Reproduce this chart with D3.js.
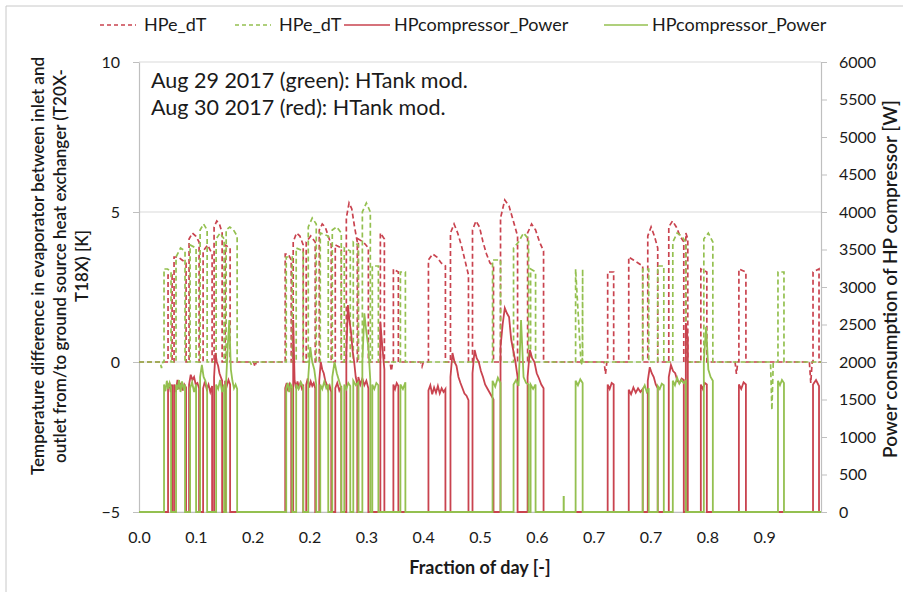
<!DOCTYPE html>
<html><head><meta charset="utf-8">
<script src="https://cdn.jsdelivr.net/npm/d3@7"></script>
<style>
body{margin:0;background:#fff;}
svg{display:block;font-family:Lato,"Open Sans",sans-serif;}
</style></head><body>
<svg id="chart" width="903" height="592"></svg>
<script>
// ---------- data ----------
const xTickValues = [0, 0.0833, 0.1667, 0.25, 0.3333, 0.4167, 0.5, 0.5833, 0.6667, 0.75, 0.8333, 0.9167];
const xTickLabels = ["0.0","0.1","0.2","0.2","0.3","0.4","0.5","0.6","0.7","0.7","0.8","0.9"];
const leftTicks = [-5, 0, 5, 10];
const rightTicks = [0,500,1000,1500,2000,2500,3000,3500,4000,4500,5000,5500,6000];
const seriesNames = ["HPe_dT","HPe_dT","HPcompressor_Power","HPcompressor_Power"];
const annotationLines = ["Aug 29 2017 (green): HTank mod.","Aug 30 2017 (red): HTank mod."];

// cycles: [start, end, dT values (K), power values (W)]  -- Aug 30 (red)
const redCycles = [
  [0.0426,0.0485,[2.9,2.9],[1650,1720,1600,1700]],
  [0.0514,0.0690,[3.5,3.5,3.4,3.3],[1700,1600,1760,1640,1720,1620,1700,1660]],
  [0.0734,0.0881,[4.1,4.3,4.2,4.0],[1700,1830,1760,1800,1700,1720,1650]],
  [0.0940,0.1072,[3.7,3.9,3.6],[1650,1740,1640,1700,1600,1680]],
  [0.1101,0.1219,[4.5,4.7,4.6,4.3],[1800,2120,2000,1950,1850,1800,1750]],
  [0.1263,0.1336,[3.9,3.8],[1750,1680,1760,1700]],
  [0.2144,0.2232,[3.6,3.6,3.4],[1650,1720,1610,1700,1640]],
  [0.2261,0.2408,[4.0,4.3,4.2,3.9],[2560,1750,1650,1740,1660,1720,1650,1700]],
  [0.2452,0.2584,[4.0,4.2,4.0],[1700,1780,1660,1740,1680,1720,1650]],
  [0.2643,0.2819,[4.4,4.6,4.5,4.2,3.9],[1750,2000,1900,1850,1750,1700,1620,1680,1600]],
  [0.2878,0.2966,[3.9,3.8],[1650,1720,1620,1680]],
  [0.3040,0.3201,[4.8,5.3,5.1,4.5,4.0],[2100,2760,2550,2400,2150,2000,1800,1700]],
  [0.3216,0.3363,[4.1,4.0,3.8],[1800,1700,1780,1690,1750,1650]],
  [0.3539,0.3598,[4.3,4.1],[2530,2200,1900]],
  [0.3730,0.3803,[3.1,3.0],[1700,1640,1720,1680]],
  [0.4244,0.4493,[3.4,3.6,3.5,3.3,3.2],[1620,1690,1570,1660,1590,1680,1580,1650,1600,1640]],
  [0.4567,0.4831,[4.3,4.6,4.3,3.9,3.4,2.9],[1800,2120,2000,1950,1800,1720,1650,1580,1550,1490]],
  [0.4890,0.5198,[4.4,4.7,4.5,4.0,3.6,3.3,3.2],[1850,2160,2050,2000,1880,1800,1700,1650,1600,1550,1500]],
  [0.5301,0.5551,[4.8,5.4,5.2,4.7,4.2],[2200,2500,2720,2650,2600,2300,2150,2000,1800]],
  [0.5698,0.5932,[4.3,4.6,4.4,4.0,3.7],[1800,2160,2050,2000,1850,1780,1700,1650]],
  [0.6872,0.6960,[3.0,3.0],[1700,1640,1720,1700]],
  [0.7181,0.7386,[3.5,3.4,3.3,3.2],[1630,1570,1660,1590,1650,1600,1640]],
  [0.7460,0.7606,[4.2,4.5,4.2,3.8],[1750,1930,1850,1800,1700,1650]],
  [0.7768,0.7988,[4.5,4.7,4.5,4.2,4.0],[1800,1960,1880,1850,1750,1720,1780,1760]],
  [0.8018,0.8047,[4.3,4.1],[2520,2300]],
  [0.8238,0.8326,[3.1,3.0],[1700,1640,1720,1700]],
  [0.8796,0.8899,[3.1,3.0],[1700,1640,1730,1700]],
  [0.9883,0.9971,[3.0,3.1],[1700,1760,1680]]
];
// Aug 29 (green)
const greenCycles = [
  [0.0367,0.0470,[3.1,3.1,3.0],[1700,1610,1750,1640,1720,1660]],
  [0.0543,0.0675,[3.5,3.8,3.7],[1700,1630,1760,1600,1740,1650,1700]],
  [0.0749,0.0837,[3.9,3.8],[1650,1730,1600,1700]],
  [0.0896,0.0999,[4.4,4.6,4.4],[1800,1960,1800,1750,1650]],
  [0.1131,0.1248,[4.1,4.3,4.1],[1700,1640,1760,1600,1700]],
  [0.1278,0.1439,[4.4,4.5,4.4,4.2],[1750,2200,2560,1900,1750,1650,1700,1640]],
  [0.2159,0.2247,[3.5,3.5],[1650,1720,1600,1700,1660]],
  [0.2305,0.2408,[3.8,3.7],[1700,1640,1730,1660]],
  [0.2482,0.2599,[4.5,4.8,4.6],[1800,2200,2000,1900,1700]],
  [0.2658,0.2775,[4.3,4.2],[1700,1640,1740,1650,1700]],
  [0.2834,0.2966,[4.4,4.5,4.3],[1800,2000,1850,1750,1650]],
  [0.3010,0.3098,[3.8,3.7],[1700,1640,1720,1680]],
  [0.3142,0.3216,[4.0,3.9],[1750,1690,1730]],
  [0.3275,0.3392,[5.0,5.3,5.0],[2000,2650,2400,2200,1750]],
  [0.3421,0.3510,[3.2,3.2],[1700,1640,1720,1690]],
  [0.3833,0.3906,[3.0,3.0],[1700,1640,1730]],
  [0.5184,0.5301,[3.4,3.4],[1750,1670,1790,1720]],
  [0.5492,0.5712,[3.8,4.0,4.3,4.1],[1700,1760,1680,2560,1800,1720,1700]],
  [0.5742,0.5815,[3.1,3.0],[1700,1640,1700]],
  [0.6226,0.6229,[],[200,200]],
  [0.6402,0.6505,[3.1,3.1],[1750,1690,1770,1720]],
  [0.7386,0.7474,[3.1,3.1],[1630,1690,1600,1650]],
  [0.7606,0.7695,[3.2,3.2],[1680,1640,1710,1690]],
  [0.7827,0.8018,[4.0,4.3,4.2,4.0],[1750,1690,1790,1710,1760,1720,1750]],
  [0.8282,0.8414,[4.1,4.3,4.0],[2000,2470,1900,1800,1750]],
  [0.9369,0.9457,[3.0,3.0],[1750,1690,1760,1720]]
];
// short dips of dT below zero: [time, dT]
const redDips = [[0.1700,-0.15],[0.3700,-0.3],[0.4150,-0.15],[0.6840,-0.4],[0.8760,-0.4],[0.9850,-0.7]];
const greenDips = [[0.0330,-0.2],[0.1650,-0.1],[0.6500,-0.1],[0.9280,-1.6]];

// ---------- layout ----------
const W = 903, H = 592;
const L = 139, R = 821, T = 62, B = 512;
const red = "#c9434f", green = "#94c050";
const svg = d3.select("#chart");

const x = d3.scaleLinear().domain([0,1]).range([L,R]);
const yL = d3.scaleLinear().domain([-5,10]).range([B,T]);
const yR = d3.scaleLinear().domain([0,6000]).range([B,T]);

// outer frame (top + left visible)
svg.append("line").attr("x1",6).attr("x2",W).attr("y1",6).attr("y2",6).attr("stroke","#c8c8c8");
svg.append("line").attr("x1",6).attr("x2",6).attr("y1",6).attr("y2",H).attr("stroke","#c8c8c8");

// gridlines
svg.append("g").selectAll("line").data(leftTicks).join("line")
  .attr("x1",L).attr("x2",R).attr("y1",d=>yL(d)).attr("y2",d=>yL(d))
  .attr("stroke","#d9d9d9").attr("stroke-width",1.2);

// axes
const axL = svg.append("g").attr("transform",`translate(${L},0)`)
  .call(d3.axisLeft(yL).tickValues(leftTicks).tickSize(6).tickSizeOuter(0).tickPadding(13));
const axR = svg.append("g").attr("transform",`translate(${R},0)`)
  .call(d3.axisRight(yR).tickValues(rightTicks).tickFormat(d3.format("d")).tickSize(6).tickSizeOuter(0).tickPadding(12));
const axB = svg.append("g").attr("transform",`translate(0,${B})`)
  .call(d3.axisBottom(x).tickValues(xTickValues).tickFormat((d,i)=>xTickLabels[i]).tickSize(0).tickPadding(20));
[axL,axR,axB].forEach(a=>{
  a.selectAll("path.domain").attr("stroke","#bfbfbf").attr("stroke-width",1.2);
  a.selectAll(".tick line").attr("stroke","#bfbfbf");
  a.selectAll("text").attr("font-size",16).attr("fill","#1a1a1a").attr("font-family","Lato");
});

// build line points
function pts(cycles, idx, dips){
  const p = [[0,0]];
  cycles.forEach(c=>{
    const t0=c[0], t1=c[1], v=c[idx];
    if(!v.length) return;
    p.push([t0,0]);
    v.forEach((val,i)=>p.push([v.length>1 ? t0+i*(t1-t0)/(v.length-1) : t0, val]));
    p.push([t1,0]);
  });
  (dips||[]).forEach(([t,val])=>{p.push([t-0.002,0],[t,val],[t+0.002,0]);});
  p.push([1,0]);
  return p.sort((a,b)=>a[0]-b[0]);
}

svg.append("clipPath").attr("id","plot").append("rect")
  .attr("x",L).attr("y",T-10).attr("width",R-L).attr("height",B-T+12);
const gPlot = svg.append("g").attr("clip-path","url(#plot)");

const lineL = d3.line().x(d=>x(d[0])).y(d=>yL(d[1]));
const lineR = d3.line().x(d=>x(d[0])).y(d=>yR(d[1]));

gPlot.append("path").datum(pts(redCycles,2,redDips)).attr("d",lineL)
  .attr("fill","none").attr("stroke",red).attr("stroke-width",1.7).attr("stroke-dasharray","5,3");
gPlot.append("path").datum(pts(greenCycles,2,greenDips)).attr("d",lineL)
  .attr("fill","none").attr("stroke",green).attr("stroke-width",1.7).attr("stroke-dasharray","5,3");
gPlot.append("path").datum(pts(redCycles,3)).attr("d",lineR)
  .attr("fill","none").attr("stroke",red).attr("stroke-width",1.8);
gPlot.append("path").datum(pts(greenCycles,3)).attr("d",lineR)
  .attr("fill","none").attr("stroke",green).attr("stroke-width",1.8);

// legend
const legendItems = [
  {name:seriesNames[0], color:red, dash:"4,3", x1:100, x2:136, tx:144},
  {name:seriesNames[1], color:green, dash:"4,3", x1:235, x2:271, tx:279},
  {name:seriesNames[2], color:red, dash:null, x1:344, x2:390, tx:394},
  {name:seriesNames[3], color:green, dash:null, x1:604, x2:648, tx:652}
];
const lg = svg.append("g");
legendItems.forEach(it=>{
  lg.append("line").attr("x1",it.x1).attr("x2",it.x2).attr("y1",25).attr("y2",25)
    .attr("stroke",it.color).attr("stroke-width",1.5).attr("stroke-dasharray",it.dash);
  lg.append("text").attr("x",it.tx).attr("y",25).attr("dy","0.35em")
    .attr("font-size",18).attr("fill","#1a1a1a").text(it.name);
});

// annotation
svg.append("g").selectAll("text").data(annotationLines).join("text")
  .attr("x",151).attr("y",(d,i)=>88+i*27).attr("font-size",21.5).attr("fill","#1a1a1a").text(d=>d);

// axis titles
svg.append("text").attr("x",480).attr("y",574).attr("text-anchor","middle")
  .attr("font-size",18).attr("font-weight","bold").attr("fill","#1a1a1a").text("Fraction of day [-]");
svg.append("text").attr("transform","translate(890,279) rotate(-90)").attr("text-anchor","middle")
  .attr("dy","0.35em").attr("font-size",19).attr("font-weight","600").attr("fill","#1a1a1a")
  .text("Power consumption of HP compressor [W]");
const leftTitle = ["Temperature difference in evaporator between inlet and",
                   "outlet from/to ground source heat exchanger (T20X-",
                   "T18X) [K]"];
svg.append("g").selectAll("text").data(leftTitle).join("text")
  .attr("transform",(d,i)=>`translate(${38+i*22},266) rotate(-90)`)
  .attr("text-anchor","middle").attr("dy","0.35em").attr("font-size",17).attr("font-weight","600")
  .attr("fill","#1a1a1a").text(d=>d);
</script>
</body></html>
